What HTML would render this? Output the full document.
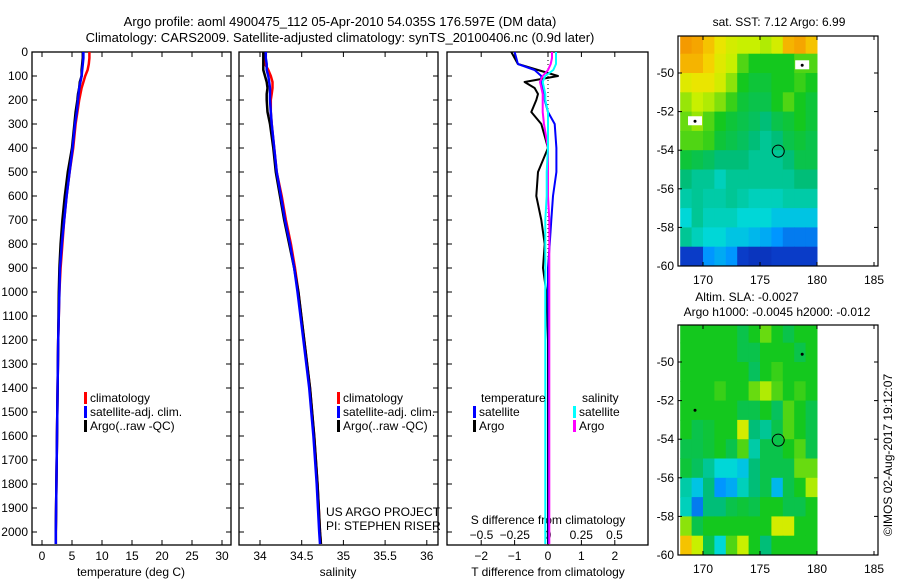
<!DOCTYPE html>
<html><head><meta charset="utf-8"><style>
body{margin:0;background:#fff}
svg{display:block;font-family:"Liberation Sans",sans-serif;font-size:12px}
</style></head><body>
<svg id="c" width="900" height="580"></svg>
<script>
const depths=[0,25,50,75,100,125,150,175,200,250,300,400,500,600,700,800,900,1000,1200,1400,1600,1800,2000,2050];
const tempClim=[7.9,7.9,7.8,7.6,7.2,6.9,6.6,6.4,6.2,5.9,5.6,5.2,4.6,4.1,3.7,3.4,3.1,2.9,2.7,2.6,2.5,2.4,2.3,2.3];
const tempSat=[6.9,6.9,6.8,6.7,6.6,6.4,6.2,6.1,6.0,5.8,5.5,5.1,4.6,4.1,3.7,3.3,3.0,2.9,2.7,2.6,2.5,2.4,2.3,2.3];
const tempArgo=[6.8,6.8,6.7,6.6,6.6,6.3,6.2,6.0,5.9,5.6,5.4,5.0,4.3,3.8,3.4,3.1,2.9,2.8,2.7,2.6,2.5,2.4,2.3,2.3];
const salClim=[34.05,34.05,34.06,34.1,34.13,34.15,34.15,34.14,34.13,34.13,34.14,34.17,34.2,34.26,34.31,34.37,34.42,34.46,34.53,34.6,34.65,34.69,34.72,34.73];
const salSat=[34.07,34.07,34.08,34.08,34.1,34.11,34.12,34.12,34.12,34.13,34.14,34.17,34.2,34.25,34.3,34.36,34.41,34.45,34.52,34.59,34.64,34.68,34.71,34.72];
const salArgo=[34.04,34.04,34.04,34.04,34.06,34.08,34.09,34.08,34.08,34.09,34.12,34.16,34.19,34.24,34.29,34.35,34.41,34.46,34.53,34.6,34.65,34.69,34.72,34.73];
const tdSat=[-1.0,-0.95,-0.9,-0.4,-0.2,-0.2,-0.15,-0.1,-0.1,0.0,0.2,0.25,0.25,0.15,0.1,0.05,0.0,0.0,0.02,0.02,0.02,0.02,0.02,0.02];
const tdArgo=[-1.1,-1.0,-0.9,-0.3,0.3,-0.7,-0.4,-0.3,-0.35,-0.5,-0.2,0.0,-0.3,-0.35,-0.2,-0.1,-0.15,-0.05,0.0,0.0,0.0,0.0,0.0,0.0];
const sdSat=[0.06,0.06,0.06,0.04,-0.02,-0.04,-0.03,-0.02,-0.02,0.0,0.0,0.0,-0.01,-0.01,-0.02,-0.02,-0.02,-0.02,-0.02,-0.02,-0.02,-0.02,-0.02,-0.02];
const sdArgo=[0.03,0.03,0.02,0.0,-0.04,-0.06,-0.05,-0.04,-0.04,-0.04,-0.03,0.0,0.0,0.0,0.01,0.01,0.01,0.01,0.01,0.01,0.01,0.01,0.01,0.01];
const depthTicks=[0,100,200,300,400,500,600,700,800,900,1000,1100,1200,1300,1400,1500,1600,1700,1800,1900,2000];
const tempTicks=[0,5,10,15,20,25,30];
const salTicks=[34,34.5,35,35.5,36];
const tdTicks=[-2,-1,0,1,2];
const sdTicks=[-0.5,-0.25,0,0.25,0.5];
const lonTicks=[170,175,180,185];
const latTicks=[-50,-52,-54,-56,-58,-60];
const sstGrid=[
[.88,.86,.82,.76,.72,.7,.7,.68,.72,.84,.86,.82],
[.84,.84,.8,.74,.7,.6,.55,.55,.55,.55,.6,.6],
[.74,.76,.76,.72,.65,.55,.52,.52,.55,.55,.58,.55],
[.66,.7,.68,.64,.58,.52,.5,.5,.55,.6,.55,.52],
[.62,.66,.6,.55,.52,.5,.48,.45,.5,.52,.55,.52],
[.6,.6,.58,.52,.5,.48,.45,.42,.45,.5,.52,.5],
[.52,.5,.48,.45,.45,.45,.42,.42,.42,.45,.5,.5],
[.45,.42,.42,.38,.42,.42,.42,.42,.42,.42,.45,.45],
[.4,.42,.4,.4,.42,.4,.38,.38,.38,.4,.4,.4],
[.35,.42,.38,.38,.38,.35,.35,.35,.32,.32,.32,.32],
[.42,.38,.35,.35,.32,.32,.3,.28,.25,.22,.22,.22],
[.15,.15,.25,.28,.25,.15,.12,.12,.15,.15,.15,.15]];
const slaGrid=[
[.55,.55,.55,.55,.55,.5,.55,.62,.55,.5,.55,.55],
[.55,.55,.55,.55,.55,.5,.5,.55,.55,.55,.5,.55],
[.55,.55,.55,.55,.55,.55,.48,.55,.58,.55,.55,.55],
[.55,.55,.55,.58,.55,.55,.62,.68,.6,.55,.58,.55],
[.55,.55,.55,.55,.55,.5,.5,.55,.48,.6,.55,.5],
[.55,.5,.52,.55,.55,.72,.45,.42,.5,.6,.55,.5],
[.5,.5,.52,.55,.5,.6,.4,.5,.5,.55,.6,.5],
[.52,.48,.42,.35,.35,.32,.45,.5,.5,.5,.62,.62],
[.4,.32,.45,.25,.28,.38,.45,.5,.3,.5,.55,.68],
[.38,.22,.45,.45,.5,.52,.5,.55,.55,.5,.5,.55],
[.65,.5,.55,.55,.55,.55,.55,.55,.72,.72,.55,.55],
[.82,.7,.5,.35,.6,.7,.55,.45,.55,.55,.55,.55]];

const NS='http://www.w3.org/2000/svg';
const svg=document.getElementById('c');
function el(tag,attrs,parent){const e=document.createElementNS(NS,tag);for(const k in attrs)e.setAttribute(k,attrs[k]);(parent||svg).appendChild(e);return e;}
function txt(x,y,s,anchor,name){const t=el('text',{x:x,y:y,'text-anchor':anchor||'start',fill:'#000'});t.textContent=s;


return t;}
const PT=52,PB=545;
const dY=d=>PT+d*0.24;
function panel(x0,x1,name){const r=el('rect',{x:x0,y:PT,width:x1-x0,height:PB-PT,fill:'none',stroke:'#000','stroke-width':1.3});

}
function profile(xs,xf,color,name,w){let d='';for(let i=0;i<depths.length;i++){const x=xf(xs[i]),y=dY(depths[i]);d+=(i?'L':'M')+x.toFixed(1)+' '+y.toFixed(1);}
const p=el('path',{d:d,fill:'none',stroke:color,'stroke-width':w||2.5,'stroke-linejoin':'round'});

}
function xticks(ticks,xf,ylab){ticks.forEach(t=>{const x=xf(t);el('line',{x1:x,x2:x,y1:PT,y2:PT+5,stroke:'#000'});el('line',{x1:x,x2:x,y1:PB-5,y2:PB,stroke:'#000'});txt(x,ylab,String(t).replace('-','−'),'middle','x-tick-label');});}
txt(340,26,'Argo profile: aoml 4900475_112 05-Apr-2010 54.035S 176.597E (DM data)','middle','title-line-1').setAttribute('font-size','13');
txt(340,42,'Climatology: CARS2009. Satellite-adjusted climatology: synTS_20100406.nc (0.9d later)','middle','title-line-2').setAttribute('font-size','13');
// panel 1
const tX=v=>42+v*6;
panel(32,231,'temperature-panel');
depthTicks.forEach(d=>{const y=dY(d);el('line',{x1:32,x2:37,y1:y,y2:y,stroke:'#000'});el('line',{x1:226,x2:231,y1:y,y2:y,stroke:'#000'});txt(28,y+4,String(d),'end','y-tick-label');});
xticks(tempTicks,tX,560);
profile(tempClim,tX,'#f00','temp-climatology-line');
profile(tempArgo,tX,'#000','temp-argo-line');
profile(tempSat,tX,'#00f','temp-satellite-line');
txt(131,576,'temperature (deg C)','middle','x-axis-title-temperature');
// panel 2
const sX=v=>260+(v-34)*83.4;
panel(239,438,'salinity-panel');
depthTicks.forEach(d=>{const y=dY(d);el('line',{x1:239,x2:244,y1:y,y2:y,stroke:'#000'});el('line',{x1:433,x2:438,y1:y,y2:y,stroke:'#000'});});
xticks(salTicks,sX,560);
profile(salClim,sX,'#f00','sal-climatology-line');
profile(salArgo,sX,'#000','sal-argo-line');
profile(salSat,sX,'#00f','sal-satellite-line');
txt(338,576,'salinity','middle','x-axis-title-salinity');
txt(326,516,'US ARGO PROJECT','start','project-label');
txt(326,530,'PI: STEPHEN RISER','start','pi-label');
function legend(x,y,items,prefix){items.forEach((it,i)=>{const b=el('rect',{x:x,y:y+i*14-10,width:3,height:12,fill:it[1]});


txt(x+6,y+i*14,it[0],'start',prefix+'-entry');});}
legend(84,402,[['climatology','#f00'],['satellite-adj. clim.','#00f'],['Argo(..raw -QC)','#000']],'legend1');
legend(337,402,[['climatology','#f00'],['satellite-adj. clim.','#00f'],['Argo(..raw -QC)','#000']],'legend2');
// panel 3
const tdX=v=>548+v*33.4;
const sdX=v=>548+v*133;
panel(447,648,'difference-panel');
depthTicks.forEach(d=>{const y=dY(d);el('line',{x1:447,x2:452,y1:y,y2:y,stroke:'#000'});});
el('line',{x1:548,x2:548,y1:52,y2:300,stroke:'#000','stroke-dasharray':'1,3'});
xticks(tdTicks,tdX,560);
sdTicks.forEach(t=>txt(sdX(t),539,String(t).replace('-','−'),'middle','s-tick-label'));
txt(548,524,'S difference from climatology','middle','s-axis-title');
txt(548,576,'T difference from climatology','middle','t-axis-title');
profile(tdArgo,tdX,'#000','tdiff-argo-line',2);
profile(tdSat,tdX,'#00f','tdiff-satellite-line',2);
profile(sdArgo,sdX,'#f0f','sdiff-argo-line',2);
profile(sdSat,sdX,'#0ff','sdiff-satellite-line',2);
txt(481,402,'temperature','start','legend3-temperature-header');
txt(582,402,'salinity','start','legend3-salinity-header');
legend(473,416,[['satellite','#00f'],['Argo','#000']],'legend3-temp');
legend(573,416,[['satellite','#0ff'],['Argo','#f0f']],'legend3-sal');
// maps
function cmap(v){const stops=[[0,[8,24,150]],[0.15,[10,60,200]],[0.25,[0,150,255]],[0.35,[0,215,215]],[0.45,[0,190,120]],[0.55,[20,200,30]],[0.7,[200,240,0]],[0.78,[245,225,0]],[0.86,[245,165,0]],[1,[240,90,0]]];
for(let i=1;i<stops.length;i++){if(v<=stops[i][0]){const a=stops[i-1],b=stops[i],f=(v-a[0])/(b[0]-a[0]);return 'rgb('+a[1].map((c,j)=>Math.round(c+(b[1][j]-c)*f)).join(',')+')';}}return 'rgb(240,90,0)';}
function map(top,grid,name){
 const lonX=l=>703+(l-170)*11.4;
 const latY=l=>top+37+(-50-l)*19.3;
 const g=el('g',{});
 
 
 grid.forEach((row,r)=>row.forEach((v,c)=>{const lon=168+c,lat=-48+(-r);
  const x=lonX(lon),y=Math.max(top,latY(lat)),y2=latY(lat-1);
  const cell=el('rect',{x:x.toFixed(1),y:y.toFixed(1),width:(11.4+0.5).toFixed(1),height:(y2-y+0.5).toFixed(1),fill:cmap(v)},g);
  
  }));
 const fr=el('rect',{x:678,y:top,width:200,height:latY(-60)-top,fill:'none',stroke:'#000','stroke-width':1.2});
 
 
 lonTicks.forEach(l=>{const x=lonX(l);el('line',{x1:x,x2:x,y1:top,y2:top+4,stroke:'#000'});el('line',{x1:x,x2:x,y1:latY(-60),y2:latY(-60)-4,stroke:'#000'});txt(x,latY(-60)+18,String(l),'middle','map-lon-label');});
 latTicks.forEach(l=>{const y=latY(l);el('line',{x1:678,x2:682,y1:y,y2:y,stroke:'#000'});el('line',{x1:874,x2:878,y1:y,y2:y,stroke:'#000'});txt(674,y+4,String(l),'end','map-lat-label');});
 const m=el('circle',{cx:lonX(176.6),cy:latY(-54.05),r:6,fill:'none',stroke:'#000','stroke-width':1});
 
 
 return {lonX,latY};
}
const m1=map(36,sstGrid,'sst-map');
[[178.7,-49.6],[169.3,-52.5]].forEach(p=>{el('rect',{x:m1.lonX(p[0])-7,y:m1.latY(p[1])-5,width:14,height:9,fill:'#fff'});el('circle',{cx:m1.lonX(p[0]),cy:m1.latY(p[1]),r:1.5,fill:'#000'});});
txt(779,26,'sat. SST: 7.12 Argo: 6.99','middle','sst-map-title');
const m2=map(325,slaGrid,'sla-map');
[[178.7,-49.6],[169.3,-52.5]].forEach(p=>el('circle',{cx:m2.lonX(p[0]),cy:m2.latY(p[1]),r:1.5,fill:'#000'}));
txt(747,301,'Altim. SLA: -0.0027','middle','sla-map-title');
txt(777,316,'Argo h1000: -0.0045 h2000: -0.012','middle','sla-map-subtitle');
const cr=txt(0,0,'©IMOS 02-Aug-2017 19:12:07','middle','timestamp-label');
cr.setAttribute('transform','translate(892,455) rotate(-90)');
</script>
</body></html>
